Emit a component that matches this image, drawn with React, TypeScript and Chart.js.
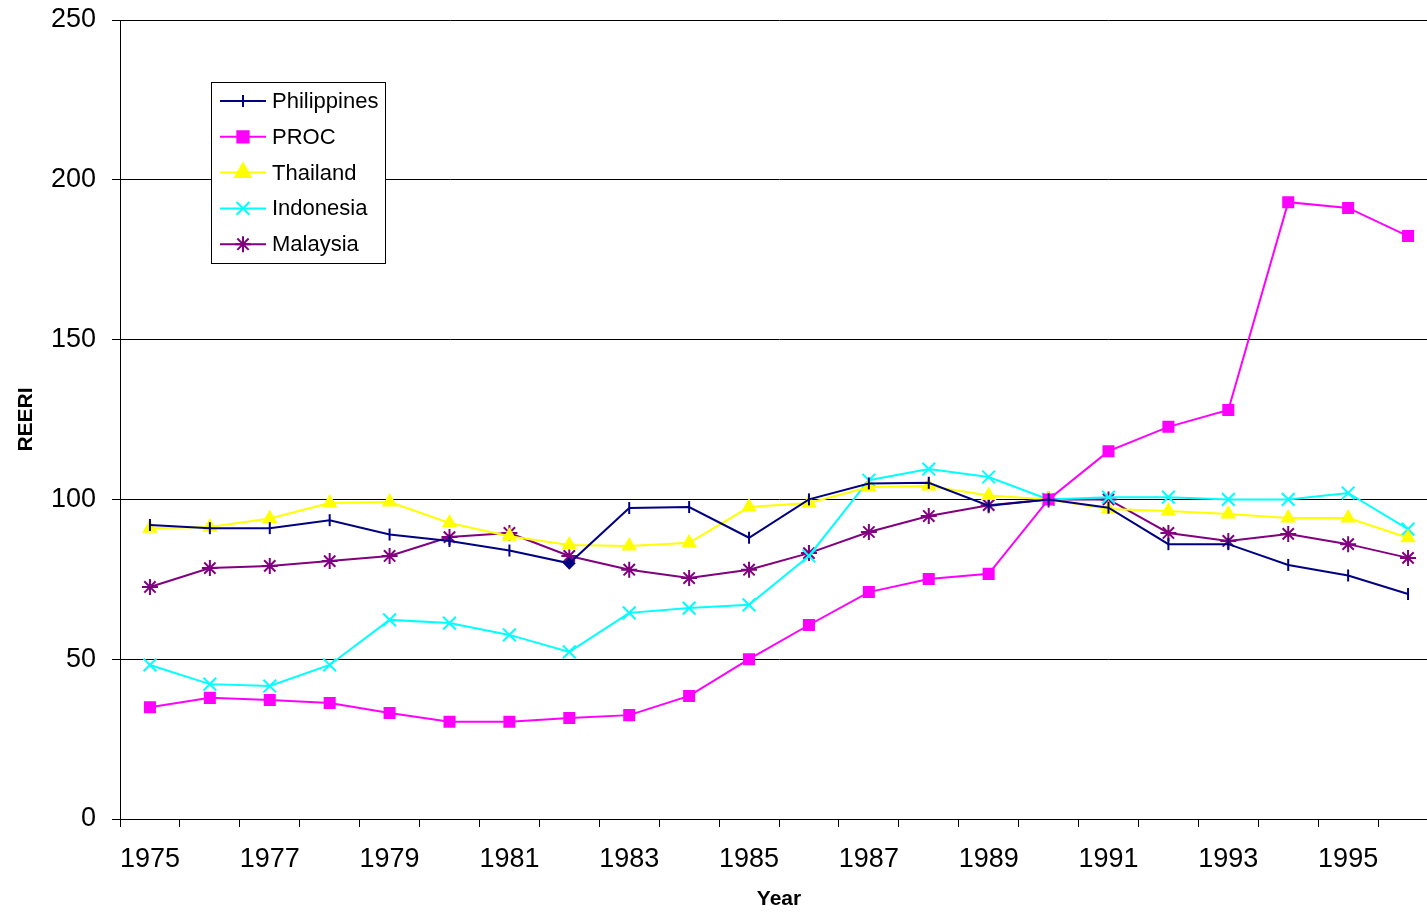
import React, { useEffect, useRef } from "react";
import { Chart, registerables } from "chart.js";
import { drawPoint } from "chart.js/helpers";

Chart.register(...registerables);

const years = ["1975","1976","1977","1978","1979","1980","1981","1982","1983","1984","1985","1986","1987","1988","1989","1990","1991","1992","1993","1994","1995","1996"];

const philippines = [92, 91, 91, 93.5, 89, 87, 84, 80, 97.3, 97.6, 88, 100, 105, 105.2, 98, 100, 97.4, 86, 86, 79.5, 76.2, 70.4];
const proc = [35, 37.9, 37.2, 36.3, 33.2, 30.4, 30.4, 31.6, 32.5, 38.5, 50, 60.7, 71, 75.1, 76.7, 100, 115.1, 122.7, 128, 193, 191.2, 182.4];
const thailand = [91, 91.4, 94, 98.9, 99.2, 92.6, 88.5, 85.7, 85.4, 86.4, 97.6, 98.9, 103.9, 104.2, 101.2, 100, 97, 96.4, 95.4, 94.2, 94.2, 88];
const indonesia = [48.2, 42.2, 41.6, 48.2, 62.3, 61.3, 57.6, 52.3, 64.5, 66, 67, 82.3, 106, 109.5, 107, 100, 100.7, 100.7, 100, 100, 102, 90.7];
const malaysia = [72.6, 78.5, 79.2, 80.7, 82.3, 88.2, 89.5, 82.3, 78, 75.4, 78, 83.2, 89.8, 94.8, 98.2, 100, 100, 89.5, 87, 89.2, 86, 81.7];

const yTicks = [0, 50, 100, 150, 200, 250];

const FONT = "'Liberation Sans', Arial, sans-serif";

const legendPlugin = {
  id: "boxLegend",
  afterDraw(chart: any) {
    const ctx = chart.ctx;
    ctx.save();
    ctx.fillStyle = "#fff";
    ctx.strokeStyle = "#000";
    ctx.lineWidth = 1;
    ctx.fillRect(211.5, 82.5, 174, 181);
    ctx.strokeRect(211.5, 82.5, 174, 181);
    chart.data.datasets.forEach((ds: any, i: number) => {
      const y = 101 + i * 35.8;
      ctx.strokeStyle = ds.borderColor;
      ctx.lineWidth = 2;
      ctx.beginPath();
      ctx.moveTo(220, y);
      ctx.lineTo(266, y);
      ctx.stroke();
      ctx.fillStyle = ds.backgroundColor;
      ctx.strokeStyle = ds.borderColor;
      ctx.lineWidth = 2;
      drawPoint(ctx, { pointStyle: ds.legendStyle, radius: ds.legendRadius, rotation: ds.legendRotation || 0, borderWidth: 2 }, 243, y);
      ctx.fillStyle = "#000";
      ctx.font = `22px ${FONT}`;
      ctx.textBaseline = "middle";
      ctx.textAlign = "left";
      ctx.fillText(ds.label, 272, y + 1);
    });
    ctx.restore();
  },
};

export default function App() {
  const ref = useRef<HTMLCanvasElement | null>(null);
  useEffect(() => {
    if (!ref.current) return;
    const phStyles = years.map((_, i) => (i === 7 ? "rectRot" : "line"));
    const phRadius = years.map((_, i) => (i === 7 ? 5 : 6));
    const phRot = years.map((_, i) => (i === 7 ? 0 : 90));
    const chart = new Chart(ref.current, {
      type: "line",
      data: {
        labels: years,
        datasets: [
          { label: "Philippines", data: philippines, borderColor: "#000080", backgroundColor: "#000080", borderWidth: 2, pointStyle: phStyles as any, pointRadius: phRadius, pointRotation: phRot, pointBorderWidth: 2, legendStyle: "line", legendRotation: 90, legendRadius: 6 } as any,
          { label: "PROC", data: proc, borderColor: "#FF00FF", backgroundColor: "#FF00FF", borderWidth: 2, pointStyle: "rect", pointRadius: 8.5, pointBorderWidth: 0, legendStyle: "rect", legendRadius: 8 } as any,
          { label: "Thailand", data: thailand, borderColor: "#FFFF00", backgroundColor: "#FFFF00", borderWidth: 2, pointStyle: "triangle", pointRadius: 9, pointBorderWidth: 0, legendStyle: "triangle", legendRadius: 9 } as any,
          { label: "Indonesia", data: indonesia, borderColor: "#00FFFF", backgroundColor: "#00FFFF", borderWidth: 2, pointStyle: "crossRot", pointRadius: 9, pointBorderWidth: 2, legendStyle: "crossRot", legendRadius: 9 } as any,
          { label: "Malaysia", data: malaysia, borderColor: "#800080", backgroundColor: "#800080", borderWidth: 2, pointStyle: "star", pointRadius: 8, pointBorderWidth: 2, legendStyle: "star", legendRadius: 8 } as any,
        ],
      },
      options: {
        animation: false,
        responsive: false,
        maintainAspectRatio: false,
        devicePixelRatio: 1,
        layout: { padding: { top: 20, left: 0, right: 0, bottom: 0 } },
        plugins: { legend: { display: false }, tooltip: { enabled: false } },
        scales: {
          x: {
            type: "category",
            offset: true,
            grid: { offset: true, drawOnChartArea: false, drawTicks: true, tickLength: 8, color: "#000", lineWidth: 1 },
            border: { color: "#000", width: 1 },
            ticks: {
              autoSkip: false,
              maxRotation: 0,
              minRotation: 0,
              padding: 16,
              color: "#000",
              font: { family: FONT, size: 27 },
              callback: (_v: any, i: number) => (i % 2 === 0 ? years[i] : ""),
            },
            title: { display: true, text: "Year", color: "#000", font: { family: FONT, size: 21, weight: "bold" }, padding: { top: 6, bottom: 2 } },
            afterFit: (s: any) => { s.height = 95; s.paddingLeft = 0; s.paddingRight = 0; },
          },
          y: {
            min: 0,
            max: 250,
            afterBuildTicks: (s: any) => { s.ticks = yTicks.map((v) => ({ value: v })); },
            grid: { color: "#000", lineWidth: 1, drawTicks: true, tickLength: 8 },
            border: { color: "#000", width: 1 },
            ticks: { padding: 16, color: "#000", font: { family: FONT, size: 27 } },
            title: { display: true, text: "REERI", color: "#000", font: { family: FONT, size: 21, weight: "bold" }, padding: { top: 14, bottom: 0 } },
            afterFit: (s: any) => { s.width = 120; s.paddingTop = 0; s.paddingBottom = 0; },
          },
        },
      },
      plugins: [legendPlugin],
    });
    return () => chart.destroy();
  }, []);
  return (
    <div style={{ position: "fixed", left: 0, top: 0, width: 1427, height: 914, overflow: "hidden", background: "#fff" }}>
      <canvas ref={ref} width={1449} height={914} style={{ display: "block", width: 1449, height: 914 }} />
    </div>
  );
}
